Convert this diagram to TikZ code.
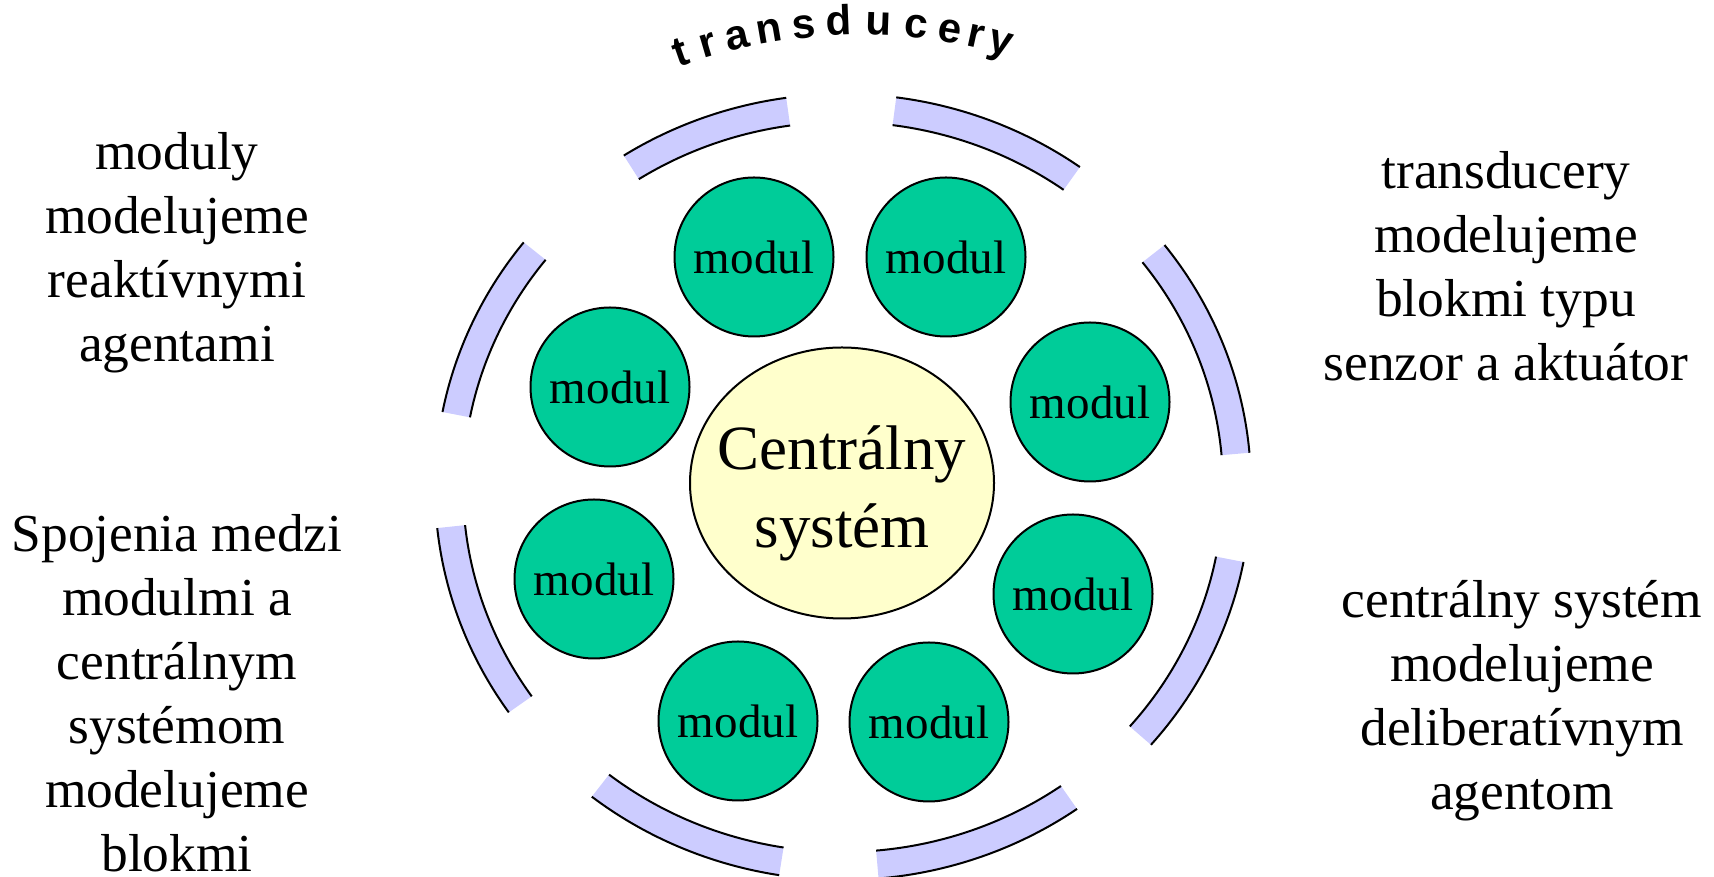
\documentclass[tikz,border=0pt]{standalone}
\usepackage{fontspec}
\setmainfont{Liberation Serif}
\newfontfamily\arialfont{Liberation Sans}
\usetikzlibrary{shapes.geometric}
\definecolor{modulgreen}{HTML}{00CC99}
\definecolor{centeryellow}{HTML}{FFFFCC}
\definecolor{ringblue}{HTML}{CCCCFF}
\tikzset{
  modul/.style={shape=circle,draw,fill=modulgreen,line width=1pt,minimum size=79.5pt,inner sep=0pt,
    font=\fontsize{23.5pt}{28pt}\selectfont},
  centralny/.style={shape=ellipse,draw,fill=centeryellow,line width=1pt,minimum width=152pt,
    minimum height=135.5pt,inner sep=0pt},
  centralnytext/.style={align=center,inner sep=0pt,font=\fontsize{31.5pt}{39pt}\selectfont},
  popis/.style={align=center,inner sep=0pt,font=\fontsize{26.7pt}{32pt}\selectfont},
  oblouk/.style={anchor=base,inner sep=0pt,font=\arialfont\bfseries\fontsize{21pt}{21pt}\selectfont},
  krajnica/.style={line width=1pt}
}
\begin{document}
\begin{tikzpicture}[x=0.5pt,y=0.5pt]
\useasboundingbox (0,0) rectangle (1714,877);
\coordinate (ctr) at (843,390);
\coordinate (tctr) at (860,312);

% prstenec transducerov
\foreach \a/\b in {98/122.5, 54.5/82.5, 5/38, -41/-11, -85/-55, -128/-99, -174/-145, 141.5/169}{
  \fill[ringblue] (ctr) ++(\a:408 and 393) arc[start angle=\a,end angle=\b,x radius=408,y radius=393]
    -- ([shift={(\b:380 and 365)}]ctr) arc[start angle=\b,end angle=\a,x radius=380,y radius=365] -- cycle;
  \draw[krajnica] (ctr) ++(\a:408 and 393) arc[start angle=\a,end angle=\b,x radius=408,y radius=393];
  \draw[krajnica] (ctr) ++(\a:380 and 365) arc[start angle=\a,end angle=\b,x radius=380,y radius=365];
}

% napis nad prstencom
\foreach \ch/\ang [count=\i] in {t/109.3, r/106.3, a/103.1, n/99.7, s/95.9, d/92.2, u/88.0, c/84.0, e/80.4, r/77.6, y/74.9}
  \node (pismeno\i) at ([shift={(\ang:530)}]tctr) [oblouk,rotate=\ang-90] {\ch};

\node (central) at (842,394) [centralny] {};
\node (centralText) at ([yshift=-5pt]central) [centralnytext] {Centrálny\\systém};

\node (m1) at (754,620) [modul] {modul};
\node (m2) at (946,620) [modul] {modul};
\node (m3) at (610,490) [modul] {modul};
\node (m4) at (1090,475) [modul] {modul};
\node (m5) at (594,298) [modul] {modul};
\node (m6) at (1073,283) [modul] {modul};
\node (m7) at (738,156) [modul] {modul};
\node (m8) at (929,155) [modul] {modul};

\node (leftTop) at (177,624) [popis] {moduly\\modelujeme\\reaktívnymi\\agentami};
\node (leftBottom) at (177,184) [popis] {Spojenia medzi\\modulmi a\\centrálnym\\systémom\\modelujeme\\blokmi};
\node (rightTop) at (1506,611) [popis] {transducery\\modelujeme\\blokmi typu\\senzor a aktuátor};
\node (rightBottom) at (1522,176) [popis] {centrálny systém\\modelujeme\\deliberatívnym\\agentom};

\end{tikzpicture}
\end{document}
